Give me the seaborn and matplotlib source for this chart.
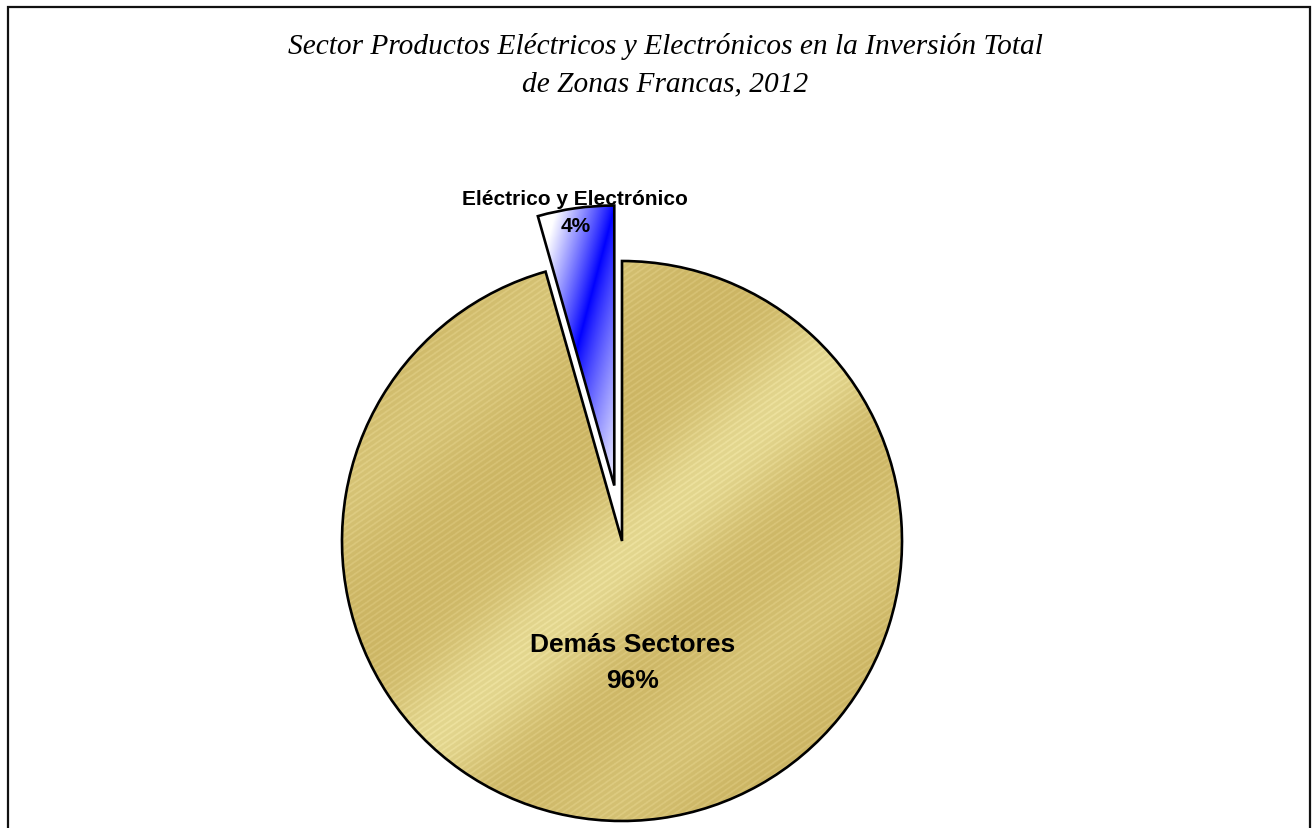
import numpy as np
import matplotlib
matplotlib.use("Agg")
import matplotlib.pyplot as plt
import seaborn as sns
from matplotlib.patches import Rectangle

# ---- data ----
sectors = ["Eléctrico y Electrónico", "Demás Sectores"]
shares = [4.4, 95.6]
pct_labels = ["4%", "96%"]
title_lines = ["Sector Productos Eléctricos y Electrónicos en la Inversión Total",
               "de Zonas Francas, 2012"]

sns.set_theme(style="white")
plt.rcParams["font.family"] = ["Liberation Sans", "DejaVu Sans"]
plt.rcParams["text.color"] = "black"

W, H = 1312, 829
fig = plt.figure(figsize=(W / 100, H / 100), dpi=100)
fig.patch.set_facecolor("white")
ax = fig.add_axes([0, 0, 1, 1])

R_PX = 280.0
CX, CY = 622.0, 542.0

wedges, _ = ax.pie(shares, startangle=90, counterclock=True,
                   explode=[0.2, 0.0], radius=1.0,
                   wedgeprops=dict(edgecolor="black", linewidth=1.9))

# ---- gradient fills ----
N = 1100
xs = np.linspace(-1.05, 1.05, N)
ys = np.linspace(-1.05, 1.35, int(N * 2.4 / 2.1))
X, Y = np.meshgrid(xs, ys)

# gold: diagonal light band + fine stripes
ang = np.deg2rad(43.6)
nx, ny = -np.sin(ang), np.cos(ang)
d = (X - 0.182) * nx + (Y - 0.114) * ny
t = (np.exp(-(d / 0.2) ** 2) + 0.4 * np.exp(-((d - 0.85) / 0.2) ** 2)
     + 0.35 * np.exp(-((d + 0.62) / 0.18) ** 2))
t = np.clip(t, 0, 1)
sang = np.deg2rad(35)
sp = (X * -np.sin(sang) + Y * np.cos(sang)) / (5.0 / R_PX)
stripe = (np.sin(2 * np.pi * sp) > 0.5).astype(float)
dark = np.array([0.80, 0.71, 0.39])
light = np.array([0.89, 0.84, 0.56])
gold = dark[None, None, :] * (1 - t[..., None]) + light[None, None, :] * t[..., None]
gold = np.clip(gold + np.array([0.04, 0.045, 0.06]) * stripe[..., None], 0, 1)

# blue: white -> blue -> light blue across the slice
bx, by = 0.966, -0.257
db = (X + 0.161) * bx + (Y - 0.686) * by
w = np.where(db < 0, np.clip(-db / 0.2, 0, 1) ** 0.9,
             0.9 * np.clip(db / 0.24, 0, 1) ** 0.85)
blue = np.stack([w, w, np.ones_like(w)], axis=-1)

for wedge, img in zip(wedges, [blue, gold]):
    im = ax.imshow(img, extent=(xs[0], xs[-1], ys[0], ys[-1]), origin="lower",
                   aspect="auto", interpolation="antialiased", zorder=1)
    im.set_clip_path(wedge)
    wedge.set_facecolor("none")
    wedge.set_zorder(3)

# ---- labels ----
def px(x, y):
    return (x - CX) / R_PX, (CY - y) / R_PX

lx, ly = px(575, 200)
ax.text(lx, ly, sectors[0], ha="center", va="center", fontsize=15,
        fontweight="bold", color="black", zorder=5)
lx, ly = px(576, 227)
ax.text(lx, ly, pct_labels[0], ha="center", va="center", fontsize=15,
        fontweight="bold", color="black", zorder=5)
lx, ly = px(633, 645)
ax.text(lx, ly, sectors[1], ha="center", va="center", fontsize=19,
        fontweight="bold", color="black", zorder=5)
lx, ly = px(633, 681)
ax.text(lx, ly, pct_labels[1], ha="center", va="center", fontsize=19,
        fontweight="bold", color="black", zorder=5)

ax.set_xlim(-CX / R_PX, (W - CX) / R_PX)
ax.set_ylim(-(H - CY) / R_PX, CY / R_PX)
ax.set_axis_off()

# ---- title ----
for i, line in enumerate(title_lines):
    fig.text(665 / W, 1 - (46 + 38 * i) / H, line, ha="center", va="center",
             fontsize=21.2, style="italic", color="black",
             family=["Liberation Serif", "DejaVu Serif"])

# ---- frame ----
fig.patches.append(Rectangle((7.5 / W, -0.05), (1310 - 7.5) / W, 1.05 - 7.5 / H,
                             transform=fig.transFigure, fill=False,
                             edgecolor="#111111", linewidth=1.6, zorder=10))

fig.savefig("out.png", dpi=100, facecolor="white")
